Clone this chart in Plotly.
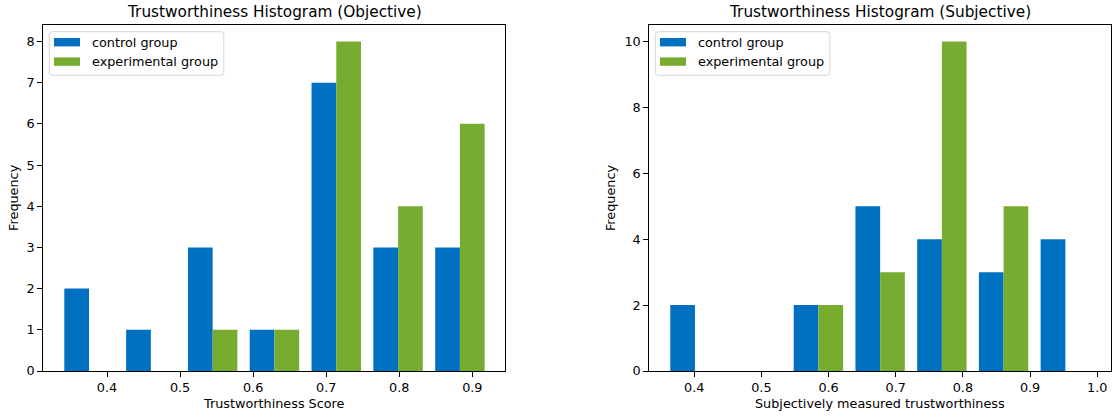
import plotly.graph_objects as go

# ---------------- data ----------------
obj_bin_centers = [0.3754, 0.4600, 0.5446, 0.6292, 0.7138, 0.7984, 0.8830]
obj_control = [2, 1, 3, 1, 7, 3, 3]
obj_experimental = [0, 0, 1, 1, 8, 4, 6]

subj_bin_centers = [0.4011, 0.4930, 0.5849, 0.6768, 0.7687, 0.8606, 0.9525]
subj_control = [2, 0, 2, 5, 4, 3, 4]
subj_experimental = [0, 0, 2, 3, 10, 5, 0]

obj_xticks = [0.4, 0.5, 0.6, 0.7, 0.8, 0.9]
subj_xticks = [0.4, 0.5, 0.6, 0.7, 0.8, 0.9, 1.0]
obj_yticks = [0, 1, 2, 3, 4, 5, 6, 7, 8]
subj_yticks = [0, 2, 4, 6, 8, 10]

series_names = ["control group", "experimental group"]
titles = ["Trustworthiness Histogram (Objective)", "Trustworthiness Histogram (Subjective)"]
xlabels = ["Trustworthiness Score", "Subjectively measured trustworthiness"]
ylabel = "Frequency"

# ---------------- style ----------------
BLUE = "#0070C0"
GREEN = "#77AC30"
FONT = "DejaVu Sans"
TICK_SIZE = 12.8
TITLE_SIZE = 15.3

W, H = 1112, 417
ML, MR, MT, MB = 43, 1, 25, 46
PW = W - ML - MR
PH = H - MT - MB


def px(x):
    return (x - ML) / PW


def py(y):
    return (H - MB - y) / PH


ax_left = [43.3, 649.3]
ax_right = [505.2, 1111.0]

fig = go.Figure()

fig.add_trace(go.Bar(x=obj_bin_centers, y=obj_control, name=series_names[0],
                     marker=dict(color=BLUE, line=dict(width=0)), xaxis="x", yaxis="y", showlegend=False))
fig.add_trace(go.Bar(x=obj_bin_centers, y=obj_experimental, name=series_names[1],
                     marker=dict(color=GREEN, line=dict(width=0)), xaxis="x", yaxis="y", showlegend=False))
fig.add_trace(go.Bar(x=subj_bin_centers, y=subj_control, name=series_names[0],
                     marker=dict(color=BLUE, line=dict(width=0)), xaxis="x2", yaxis="y2", showlegend=False))
fig.add_trace(go.Bar(x=subj_bin_centers, y=subj_experimental, name=series_names[1],
                     marker=dict(color=GREEN, line=dict(width=0)), xaxis="x2", yaxis="y2", showlegend=False))

axis_common = dict(showgrid=False, zeroline=False, showline=True, mirror=True,
                   linecolor="black", linewidth=1, ticks="outside", ticklen=5,
                   tickwidth=1, tickcolor="black",
                   tickfont=dict(family=FONT, size=TICK_SIZE, color="black"))

fig.update_layout(
    width=W, height=H,
    margin=dict(l=ML, r=MR, t=MT, b=MB),
    paper_bgcolor="white", plot_bgcolor="white",
    barmode="group", bargap=0.2, bargroupgap=0,
    font=dict(family=FONT, size=TICK_SIZE, color="black"),
    xaxis=dict(domain=[px(ax_left[0]), px(ax_right[0])], range=[0.3128, 0.945],
               tickvals=obj_xticks, ticktext=[f"{v:.1f}" for v in obj_xticks], anchor="y", **axis_common),
    yaxis=dict(domain=[0, 1], range=[0, 8.4], tickvals=obj_yticks, anchor="x", **axis_common),
    xaxis2=dict(domain=[px(ax_left[1]), px(ax_right[1])], range=[0.3331, 1.0205],
                tickvals=subj_xticks, ticktext=[f"{v:.1f}" for v in subj_xticks], anchor="y2", **axis_common),
    yaxis2=dict(domain=[0, 1], range=[0, 10.5], tickvals=subj_yticks, anchor="x2", **axis_common),
)

shapes = []
annotations = []


def rounded_rect(x0, y0, x1, y1, r):
    # pixel coords, y0 top, y1 bottom
    pts = []
    pts.append(f"M {px(x0 + r)},{py(y0)}")
    pts.append(f"L {px(x1 - r)},{py(y0)}")
    pts.append(f"Q {px(x1)},{py(y0)} {px(x1)},{py(y0 + r)}")
    pts.append(f"L {px(x1)},{py(y1 - r)}")
    pts.append(f"Q {px(x1)},{py(y1)} {px(x1 - r)},{py(y1)}")
    pts.append(f"L {px(x0 + r)},{py(y1)}")
    pts.append(f"Q {px(x0)},{py(y1)} {px(x0)},{py(y1 - r)}")
    pts.append(f"L {px(x0)},{py(y0 + r)}")
    pts.append(f"Q {px(x0)},{py(y0)} {px(x0 + r)},{py(y0)}")
    return " ".join(pts) + " Z"


for i in range(2):
    L, R = ax_left[i], ax_right[i]
    cx = (L + R) / 2
    # title
    annotations.append(dict(text=titles[i], x=px(cx), y=py(12.5), xref="paper", yref="paper",
                            xanchor="center", yanchor="middle", showarrow=False,
                            font=dict(family=FONT, size=TITLE_SIZE, color="black")))
    # x label
    annotations.append(dict(text=xlabels[i], x=px(cx), y=py(403.5), xref="paper", yref="paper",
                            xanchor="center", yanchor="middle", showarrow=False,
                            font=dict(family=FONT, size=TICK_SIZE, color="black")))
    # y label
    ylx = 13.3 if i == 0 else 610.5
    annotations.append(dict(text=ylabel, x=px(ylx), y=py((24.5 + 370.7) / 2), xref="paper", yref="paper",
                            xanchor="center", yanchor="middle", textangle=-90, showarrow=False,
                            font=dict(family=FONT, size=TICK_SIZE, color="black")))
    # legend box
    bx0 = L + 6
    bx1 = bx0 + 174.5
    by0, by1 = 31.7, 75.3
    shapes.append(dict(type="path", path=rounded_rect(bx0, by0, bx1, by1, 3), xref="paper", yref="paper",
                       line=dict(color="#d6d6d6", width=1), fillcolor="rgba(255,255,255,0.8)", layer="above"))
    rows = [42.2, 61.6]
    cols = [BLUE, GREEN]
    for j in range(2):
        shapes.append(dict(type="rect", x0=px(bx0 + 4.7), x1=px(bx0 + 30.7),
                           y0=py(rows[j] - 4.2), y1=py(rows[j] + 4.2), xref="paper", yref="paper",
                           line=dict(width=0), fillcolor=cols[j], layer="above"))
        annotations.append(dict(text=series_names[j], x=px(bx0 + 41.0), y=py(rows[j]), xref="paper", yref="paper",
                                xanchor="left", yanchor="middle", showarrow=False,
                                font=dict(family=FONT, size=TICK_SIZE, color="black")))

fig.update_layout(shapes=shapes, annotations=annotations)

fig.write_html(
    "out.html",
    config={"displayModeBar": False},
    post_script="document.body.style.margin='0';document.body.style.overflow='hidden';",
)
